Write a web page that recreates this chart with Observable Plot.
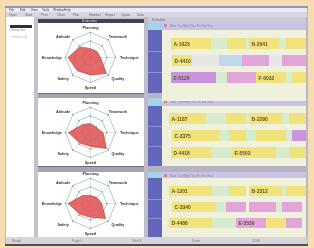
<!DOCTYPE html>
<html><head><meta charset="utf-8">
<script src="https://cdn.jsdelivr.net/npm/d3@7"></script>
<script src="https://cdn.jsdelivr.net/npm/@observablehq/plot@0.6"></script>
<style>
body{margin:0;width:314px;height:248px;background:#f6dcae;overflow:hidden;font-family:"Liberation Sans",sans-serif}
#wrap{position:absolute;left:0;top:0;width:314px;height:248px;filter:blur(0.6px) saturate(0.9)}
.b{position:absolute;box-sizing:border-box}
.t{position:absolute;font-size:3.4px;color:#555;white-space:nowrap;line-height:4px}
svg text{font-family:"Liberation Sans",sans-serif}
</style></head><body><div id="wrap"></div>
<script>
// ---------- data ----------
const axisLabels = ["Planning","Teamwork","Technique","Quality","Speed","Safety","Knowledge","Attitude"];
const radarValues1 = [0.35,0.35,0.40,0.90,0.70,0.75,0.90,0.60];
const radarValues2 = [0.35,0.30,0.50,0.90,0.55,0.60,0.88,0.45];
const radarValues3 = [0.30,0.35,0.45,0.85,0.55,0.60,0.90,0.45];
const ringLevels = [0.33,0.66,1];

// tasks: [row, start, end, kind, label]
const tasks1 = [
 [1,9,49,"Y","A-1023"],[1,49,65,"G",""],[1,65,84,"Y",""],[1,84,87,"G",""],[1,87,117,"Y","B-2041"],[1,117,124,"G",""],[1,124,144,"Y",""],
 [2,10,30,"Y","D-4410"],[2,30,57,"W",""],[2,57,80,"B",""],[2,80,107,"P",""],[2,107,120,"W",""],[2,120,144,"P",""],
 [3,9,54,"V","E-5120"],[3,54,65,"G",""],[3,65,94,"P",""],[3,94,124,"Y","F-6032"],[3,124,130,"G",""],[3,130,144,"Y",""]
];
const tasks2 = [
 [1,7,44,"Y","A-1187"],[1,44,64,"G",""],[1,64,84,"Y",""],[1,84,87,"G",""],[1,87,120,"Y","B-2290"],[1,120,127,"G",""],[1,127,144,"Y",""],
 [2,10,57,"Y","C-3375"],[2,57,67,"G",""],[2,67,84,"Y",""],[2,84,94,"G",""],[2,94,124,"Y",""],[2,124,130,"G",""],[2,130,144,"V",""],
 [3,9,49,"Y","D-4418"],[3,49,70,"G",""],[3,70,114,"Y","E-5503"],[3,114,127,"G",""],[3,127,144,"Y",""]
];
const tasks3 = [
 [1,7,50,"Y","A-1201"],[1,50,67,"G",""],[1,67,84,"Y",""],[1,87,120,"Y","B-2312"],[1,120,124,"G",""],[1,124,144,"Y",""],
 [2,10,54,"Y","C-3340"],[2,54,64,"G",""],[2,64,84,"P",""],[2,87,114,"P",""],[2,114,120,"G",""],[2,120,140,"P",""],
 [3,7,50,"Y","D-4486"],[3,50,74,"G",""],[3,74,104,"P","E-5530"],[3,104,124,"Y",""],[3,124,140,"P",""]
];
const kindColors = {Y:"#f3e46e",G:"#d3eecb",P:"#e7a3dd",V:"#cd92e2",B:"#bcd9f0",W:"#e6e6e6"};
const menuItems = ["File","Edit","View","Tools","Window","Help"];

// ---------- layout helpers ----------
const wrap = document.getElementById("wrap");
function box(x,y,w,h,bg,extra){const d=document.createElement("div");d.className="b";
 Object.assign(d.style,{left:x+"px",top:y+"px",width:w+"px",height:h+"px",background:bg},extra||{});wrap.appendChild(d);return d;}
function txt(x,y,s,color,size){const d=document.createElement("div");d.className="t";d.textContent=s;
 Object.assign(d.style,{left:x+"px",top:y+"px",color:color||"#555",fontSize:(size||3.4)+"px"});wrap.appendChild(d);return d;}

function radar(vals,w,h,cx,cy,R){
 const n=axisLabels.length;
 const pt=(i,r)=>({x:r*Math.sin(2*Math.PI*i/n),y:r*Math.cos(2*Math.PI*i/n)});
 const rings=ringLevels.flatMap(r=>axisLabels.map((l,i)=>({...pt(i,r),ring:r})));
 const spokes=axisLabels.map((l,i)=>({...pt(i,1),x0:0,y0:0}));
 const poly=vals.map((v,i)=>pt(i,v));
 const labs=axisLabels.map((l,i)=>{const p=pt(i,1);return {x:p.x*1.55,y:p.y*1.2,label:l};});
 return Plot.plot({width:w,height:h,margin:0,
  x:{domain:[-cx/R,(w-cx)/R],range:[0,w],axis:null},
  y:{domain:[-(h-cy)/R,cy/R],range:[h,0],axis:null},
  style:{background:"#ffffff",overflow:"visible"},
  marks:[
   Plot.line(rings,{x:"x",y:"y",z:"ring",curve:"linear-closed",stroke:"#8fb8a6",strokeWidth:0.7}),
   Plot.link(spokes,{x1:"x0",y1:"y0",x2:"x",y2:"y",stroke:"#b4c8c0",strokeWidth:0.5}),
   Plot.line(poly,{x:"x",y:"y",curve:"linear-closed",fill:"#f04a4a",fillOpacity:0.85,stroke:"#d22a2a",strokeWidth:0.6}),
   Plot.dot(rings,{x:"x",y:"y",r:0.7,fill:"#6f9488"}),
   Plot.text(labs,{x:"x",y:"y",text:"label",fontSize:3.8,fill:"#333",fontWeight:"bold"})
  ]});
}
function gantt(rows,w,h,r0,r1){
 const data=rows.map(([row,start,end,kind,label])=>({row,start,end,kind,label}));
 return Plot.plot({width:w,height:h,margin:0,
  x:{domain:[0,144],range:[0,w],axis:null},
  y:{domain:[1,2,3],range:[r0,r1],padding:0.36,axis:null},
  style:{background:"#eff1da"},
  marks:[
   Plot.barX(data,{x1:"start",x2:"end",y:"row",fill:d=>kindColors[d.kind],inset:0}),
   Plot.text(data.filter(d=>d.label),{x:"start",y:"row",text:"label",textAnchor:"start",dx:2,fontSize:5,fontWeight:"bold",fill:"#5d5230"})
  ]});
}
function place(node,x,y){const d=box(x,y,node.getAttribute("width"),node.getAttribute("height"),"transparent");d.appendChild(node);node.style.display="block";}

// ---------- window chrome ----------
box(5,6,303,240,"#dedce6",{border:"1px solid #b9b6c8"});
box(5,6,303,2,"#8b93cc");
box(6,8,301,4,"#ecebf0");
menuItems.forEach((m,i)=>txt(9+i*11,8,m,"#444",3.2));
box(6,12,301,5,"#d9d6e2");
["Open","Save","Print","Chart","Plan","Member","Report","Option","Data"].forEach((m,i)=>txt(9+i*16,12.5,m,"#666",3.2));
// sidebar
box(6,17,28,221,"#ffffff");
box(10,25,22,2.5,"#2f3040");
txt(11,28,"Group list","#888",3.2);
txt(12,35,"Member A","#bbb",3.2);
box(34,17,4,221,"#c3c2ce");
// radar panels
box(38,17,108,3,"#c9c8d2");
box(38,19,108,4,"#3c4258"); txt(82,19.2,"Evaluation","#dde",3.2);
box(38,93,108,5,"#a3a3b2",{borderTop:"1px solid #6c6c7c"});
box(38,166,108,6,"#a3a3b2",{borderTop:"1px solid #6c6c7c"});
box(144,17,4,221,"#bdbcc8");
place(radar(radarValues1,106,70,52,34,25),38,23);
place(radar(radarValues2,106,68,52,34,25),38,98);
place(radar(radarValues3,106,66,52,31,25),38,172);
// right panels
box(148,17,158,5,"#cfcbdc");
txt(152,17.5,"Schedule","#666",3.2);
const panels=[{top:22,hdr:8,bottom:93},{top:98,hdr:8,bottom:166},{top:172,hdr:6,bottom:237}];
panels.forEach(p=>{
 box(148,p.top,14,p.bottom-p.top,"#6166c6");
 box(148,p.top,14,p.hdr,"#9fd4ef");
 box(162,p.top,144,p.hdr,"#cbc3e9");
 box(164,p.top+2,3,3,"#e96b8b",{borderRadius:"2px"});
 txt(170,p.top+1.5,"Mon  Tue  Wed  Thu  Fri  Sat  Sun","#8a80b8",3.2);
});
box(148,93,158,5,"#b5b3c4");
box(148,166,158,6,"#b5b3c4");
place(gantt(tasks1,144,71,1,60),162,30);
place(gantt(tasks2,144,60,0,58),162,106);
place(gantt(tasks3,144,59,1,58),162,178);
// blue column row dividers
[[22,93],[98,166],[172,237]].forEach(([a,b])=>{const s=(b-a-8)/3;for(let k=1;k<3;k++)box(148,a+8+k*s,14,1,"#8d92dc");});
box(306,17,2,221,"#b9b6c8");
// status bar
box(6,237,301,7,"#d6d4de");
["Ready","Page 1","Total 3","Score","12:00"].forEach((m,i)=>txt(12+i*60,238.5,m,"#777",3.2));
box(5,244,303,2,"#4e4e58");
</script></body></html>
